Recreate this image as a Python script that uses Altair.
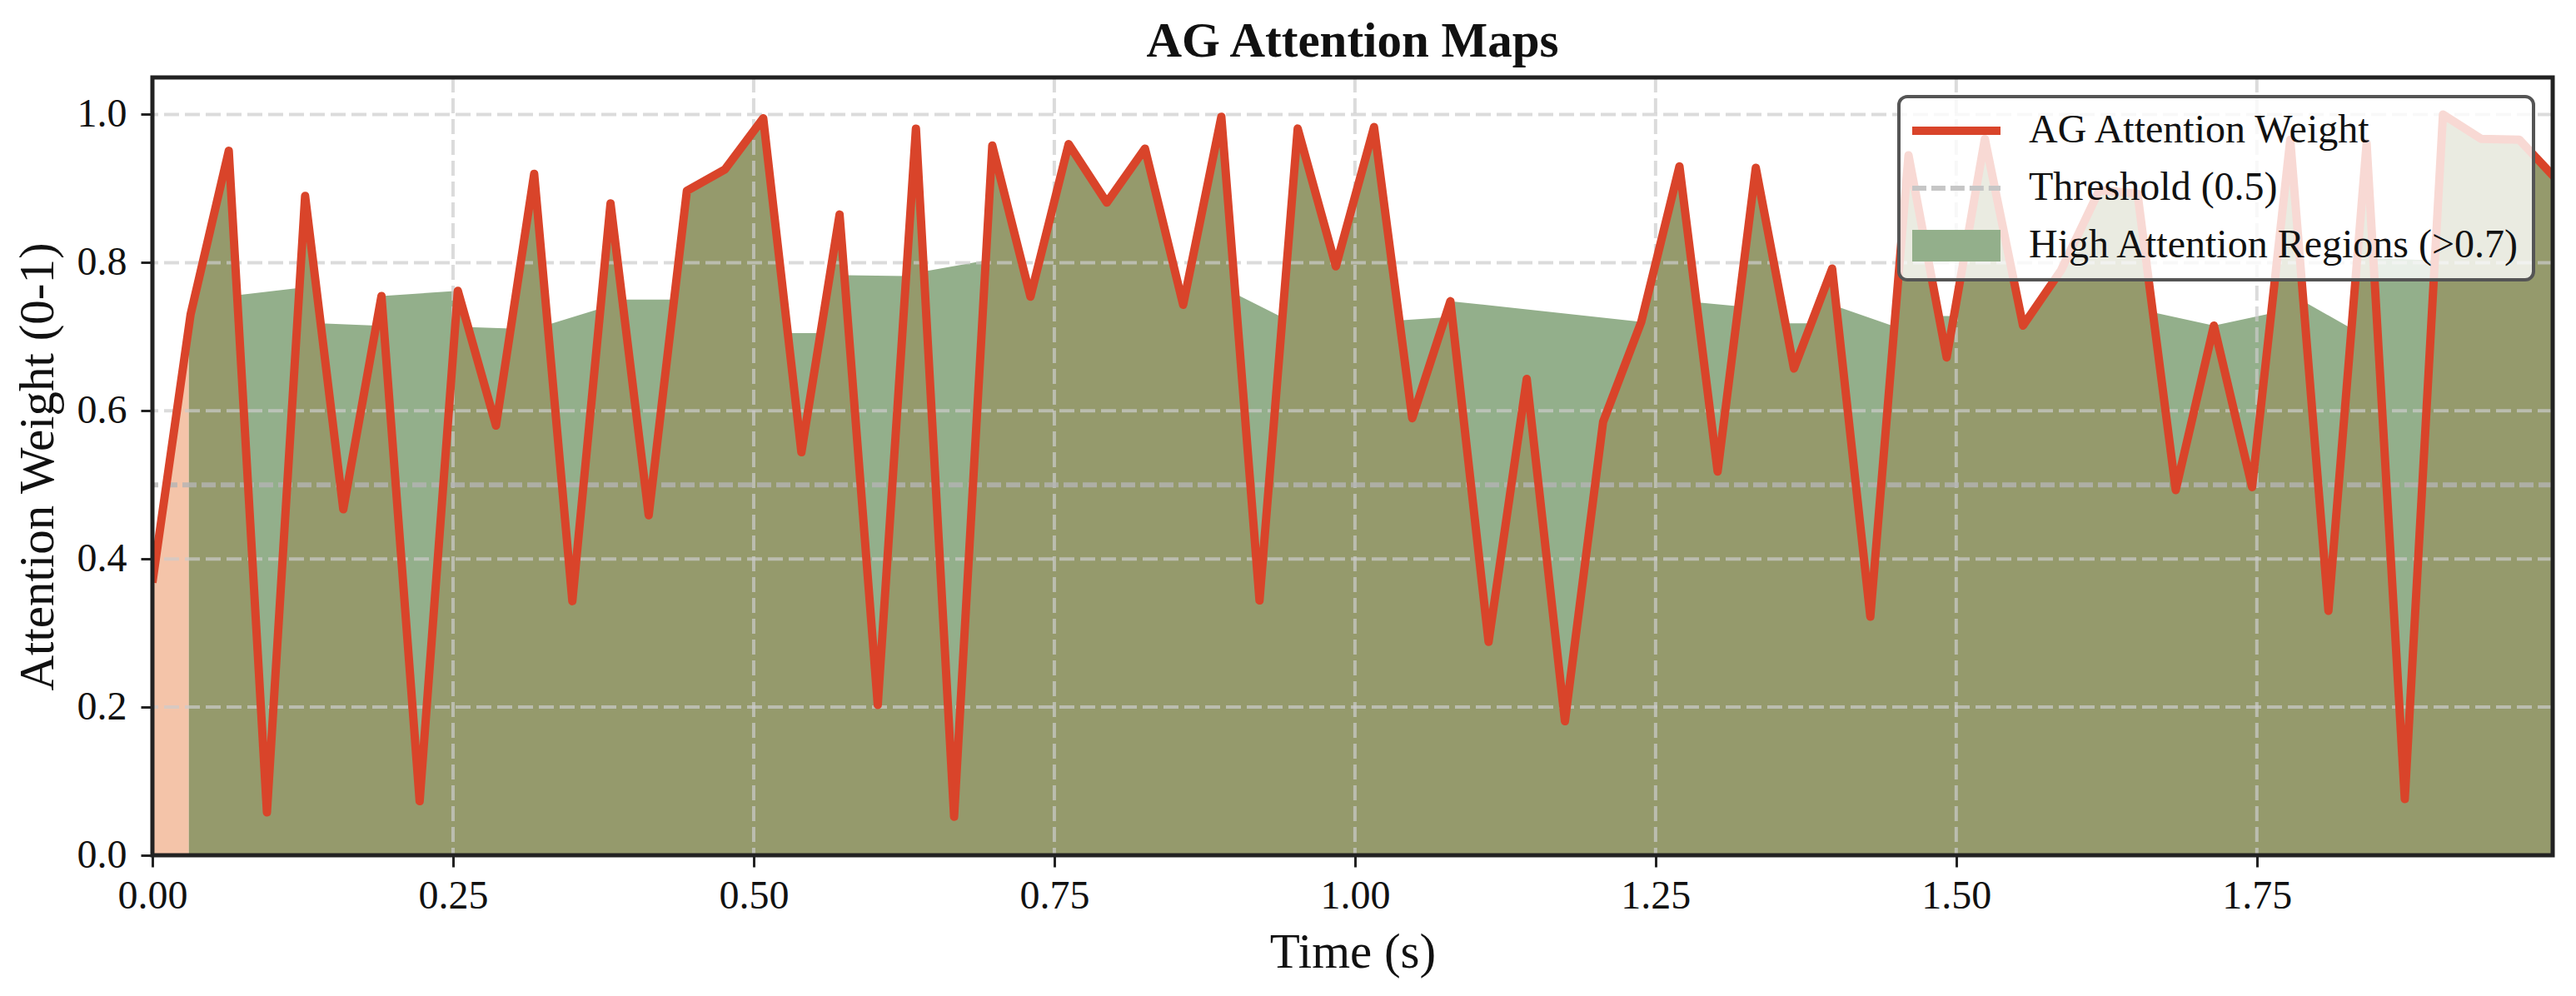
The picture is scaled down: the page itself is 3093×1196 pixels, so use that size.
import altair as alt
import pandas as pd

FONT = "Liberation Serif"
RED = "#D9442A"
LIGHT_GREEN = "#93AF8B"
OLIVE = "#959A6C"
PEACH = "#F4C4A9"
GRID = "#cccccc"
THR_COLOR = "#b4b4b4"
INK = "#222222"

NAME_LINE = "AG Attention Weight"
NAME_THR = "Threshold (0.5)"
NAME_HIGH = "High Attention Regions (>0.7)"

# 64 time samples over 2 s
time = [i * 2 / 63 for i in range(64)]
attention = [0.368, 0.73, 0.951, 0.058, 0.89, 0.467, 0.755, 0.073, 0.762, 0.58,
             0.92, 0.343, 0.88, 0.459, 0.897, 0.926, 0.995, 0.544, 0.865, 0.203,
             0.981, 0.052, 0.958, 0.754, 0.96, 0.881, 0.954, 0.743, 0.997, 0.344,
             0.981, 0.795, 0.983, 0.59, 0.748, 0.288, 0.643, 0.181, 0.585, 0.72,
             0.93, 0.518, 0.928, 0.657, 0.792, 0.322, 0.945, 0.672, 0.967, 0.715,
             0.79, 0.898, 0.893, 0.493, 0.715, 0.497, 0.966, 0.33, 0.961, 0.076,
             1.0, 0.967, 0.966, 0.911]

threshold = 0.5
high_level = 0.7

# where the green "high attention" fill begins
green_start_t = 0.0302
green_start_v = 0.712

# green fill edge where it bridges over the dips of the curve
bridge_t = [0.0704, 0.1222, 0.1399, 0.1860, 0.2625, 0.2979, 0.3287, 0.3726,
            0.3908, 0.4338, 0.5283, 0.5556, 0.5753, 0.6268, 0.6415, 0.6930,
            0.9005, 0.9397, 1.0370, 1.0730, 1.2839, 1.3189, 1.3579, 1.3794,
            1.4003, 1.4486, 1.4855, 1.4981, 1.6635, 1.7619, 1.7887, 1.8287,
            1.8469, 1.8980]
bridge_v = [0.756, 0.766, 0.718, 0.715, 0.713, 0.711, 0.716, 0.738,
            0.750, 0.750, 0.705, 0.705, 0.783, 0.782, 0.788, 0.803,
            0.758, 0.726, 0.722, 0.726, 0.7465, 0.741, 0.718, 0.718,
            0.741, 0.714, 0.728, 0.728, 0.733, 0.7315, 0.748, 0.711,
            0.806, 0.803]

x_ticks = [0.0, 0.25, 0.5, 0.75, 1.0, 1.25, 1.5, 1.75]
y_ticks = [0.0, 0.2, 0.4, 0.6, 0.8, 1.0]

# ---- tables -------------------------------------------------------------
line_df = pd.DataFrame({"t": time, "v": attention})

green_rows = [(t, v) for t, v in zip(time, attention) if v > high_level]
green_rows += list(zip(bridge_t, bridge_v))
green_rows.append((green_start_t, green_start_v))
green_df = pd.DataFrame(sorted(green_rows), columns=["t", "v"])

olive_rows = [(green_start_t, green_start_v)] + [
    (t, v) for t, v in zip(time, attention) if t > green_start_t]
olive_df = pd.DataFrame(olive_rows, columns=["t", "v"])

peach_rows = [(t, v) for t, v in zip(time, attention) if t < green_start_t]
peach_rows.append((green_start_t, green_start_v))
peach_df = pd.DataFrame(peach_rows, columns=["t", "v"])

xgrid_df = pd.DataFrame({"t": x_ticks[1:]})
ygrid_df = pd.DataFrame({"v": y_ticks[1:]})
thr_df = pd.DataFrame({"v": [threshold]})
legend_df = pd.DataFrame({"series": [NAME_LINE, NAME_THR, NAME_HIGH]})

# ---- scales / axes ------------------------------------------------------
xs = alt.Scale(domain=[0, 1.996], nice=False, zero=False)
ys = alt.Scale(domain=[0, 1.05], nice=False, zero=False)

x_axis = alt.Axis(title="Time (s)", values=x_ticks, format=".2f", grid=False,
                  domain=False, labelFlush=False, labelPadding=11, titlePadding=14)
y_axis = alt.Axis(title="Attention Weight (0-1)", values=y_ticks, format=".1f",
                  grid=False, domain=False, labelFlush=False, labelPadding=17,
                  titlePadding=17)

X = alt.X("t:Q", scale=xs, axis=x_axis)
Y = alt.Y("v:Q", scale=ys, axis=y_axis, stack=None)

green = alt.Chart(green_df).mark_area(color=LIGHT_GREEN, opacity=1, clip=True).encode(x=X, y=Y)
olive = alt.Chart(olive_df).mark_area(color=OLIVE, opacity=1, clip=True).encode(x=X, y=Y)
peach = alt.Chart(peach_df).mark_area(color=PEACH, opacity=1, clip=True).encode(x=X, y=Y)

xgrid = alt.Chart(xgrid_df).mark_rule(color=GRID, opacity=0.7, strokeWidth=4,
                                      strokeDash=[18, 7]).encode(x=X)
ygrid = alt.Chart(ygrid_df).mark_rule(color=GRID, opacity=0.7, strokeWidth=4,
                                      strokeDash=[18, 7]).encode(y=Y)
thr = alt.Chart(thr_df).mark_rule(color=THR_COLOR, opacity=0.8, strokeWidth=6,
                                  strokeDash=[17, 6]).encode(y=Y)

line = alt.Chart(line_df).mark_line(color=RED, strokeWidth=10, strokeJoin="round",
                                    clip=True).encode(x=X, y=Y)

frame = alt.Chart(thr_df).mark_rect(fill="transparent", stroke=INK, strokeWidth=5).encode(
    x=alt.value(0), x2=alt.value("width"), y=alt.value(0), y2=alt.value("height"))

# ---- legend (symbols drawn as filled shapes) ----------------------------
PATH_LINE = "M-1,-0.094H1V0.094H-1Z"
PATH_DASH = ("M-1,-0.057H-0.68V0.057H-1Z M-0.567,-0.057H-0.247V0.057H-0.567Z "
             "M-0.134,-0.057H0.186V0.057H-0.134Z M0.299,-0.057H0.619V0.057H0.299Z "
             "M0.732,-0.057H1V0.057H0.732Z")
PATH_RECT = "M-1,-0.36H1V0.36H-1Z"

leg = alt.Legend(
    title=None,
    orient="top-right",
    offset=23,
    padding=16,
    rowPadding=19,
    clipHeight=50,
    labelFont=FONT,
    labelFontSize=48,
    labelColor="#111111",
    labelOffset=34,
    labelLimit=0,
    symbolSize=11236,
    symbolStrokeWidth=0,
    symbolOpacity=1,
    fillColor="rgba(255,255,255,0.8)",
    strokeColor="#555555",
    cornerRadius=10,
    zindex=1,
)
names = [NAME_LINE, NAME_THR, NAME_HIGH]
legend_layer = alt.Chart(legend_df).mark_point(filled=True, size=0, strokeWidth=0).encode(
    color=alt.Color("series:N", scale=alt.Scale(domain=names,
                                                range=[RED, "#c6c6c6", LIGHT_GREEN]),
                    legend=leg),
    shape=alt.Shape("series:N", scale=alt.Scale(domain=names,
                                                range=[PATH_LINE, PATH_DASH, PATH_RECT]),
                    legend=leg),
)

chart = alt.layer(green, olive, peach, xgrid, ygrid, thr, line, frame, legend_layer).properties(
    width=2882,
    height=934,
    title=alt.TitleParams("AG Attention Maps", font=FONT, fontSize=59, fontWeight="bold",
                          color="#111111", anchor="middle", frame="group",
                          baseline="alphabetic", offset=26, dy=62),
    padding={"left": 175, "top": 85, "right": 20, "bottom": 150},
    autosize=alt.AutoSizeParams(type="none"),
).configure_axis(
    labelFont=FONT, titleFont=FONT, labelFontSize=48, titleFontSize=59,
    labelColor="#111111", titleColor="#111111", titleFontWeight="normal",
    tickColor=INK, tickWidth=3, tickSize=14,
).configure_legend(strokeWidth=4).configure_view(stroke="transparent")

chart.save("out.html", embed_options={"renderer": "svg", "actions": False})
